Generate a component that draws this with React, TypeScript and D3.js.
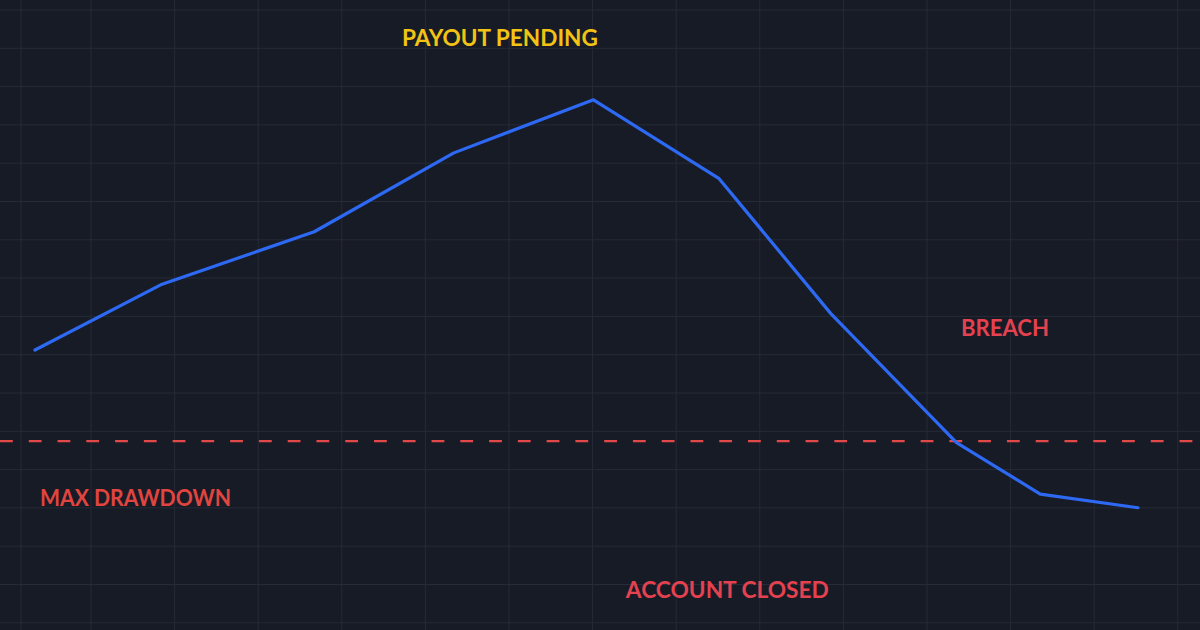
import React from "react";
import * as d3 from "d3";

const days = [0, 4.5, 10, 15, 20, 24.5, 28.5, 33, 36, 39.5];
const equity = [100, 104.3, 107.8, 113, 116.5, 111.3, 102.4, 93.9, 90.5, 89.6];
const maxDrawdown = 94;
const labelTexts = ["PAYOUT PENDING", "MAX DRAWDOWN", "BREACH", "ACCOUNT CLOSED"];
const labelDays = [13.14, 0.18, 33.16, 21.16];
const labelValues = [120.04, 89.71, 100.92, 83.65];
const labelColors = ["#f2c314", "#e0453f", "#e5414f", "#e5414f"];
const labelWidths = [196, 191, 88, 203];

const W = 1200;
const H = 630;

export default function App() {
  const x = d3.scaleLinear().domain([0, 39.5]).range([35, 1138]);
  const y = d3.scaleLinear().domain([81.54, 123.08]).range([630, 0]);
  const line = d3
    .line<number>()
    .x((_, i) => x(days[i]))
    .y((d) => y(d));
  const vGrid = [21, ...d3.range(91, W, 83.6)];
  const hGrid = d3.range(10, H, 38.3);
  return (
    <div style={{ position: "fixed", left: 0, top: 0, width: W, height: H }}>
      <svg width={W} height={H} style={{ display: "block" }}>
        <rect width={W} height={H} fill="#171b26" />
        {vGrid.map((gx, i) => (
          <line key={"v" + i} x1={gx} x2={gx} y1={0} y2={H} stroke="#262b37" strokeWidth={1} />
        ))}
        {hGrid.map((gy, i) => (
          <line key={"h" + i} x1={0} x2={W} y1={gy} y2={gy} stroke="#262b37" strokeWidth={1} />
        ))}
        <line
          x1={0}
          x2={W}
          y1={y(maxDrawdown)}
          y2={y(maxDrawdown)}
          stroke="#e34848"
          strokeWidth={2.3}
          strokeDasharray="12.8,15.97"
        />
        <path
          d={line(equity) || ""}
          fill="none"
          stroke="#2d69f3"
          strokeWidth={3.2}
          strokeLinejoin="round"
          strokeLinecap="round"
        />
        {labelTexts.map((t, i) => (
          <text
            key={t}
            x={x(labelDays[i])}
            y={y(labelValues[i])}
            fill={labelColors[i]}
            fontFamily="Lato, 'Open Sans', sans-serif"
            fontWeight={700}
            fontSize={22.5}
            textLength={labelWidths[i]}
            lengthAdjust="spacingAndGlyphs"
          >
            {t}
          </text>
        ))}
      </svg>
    </div>
  );
}
